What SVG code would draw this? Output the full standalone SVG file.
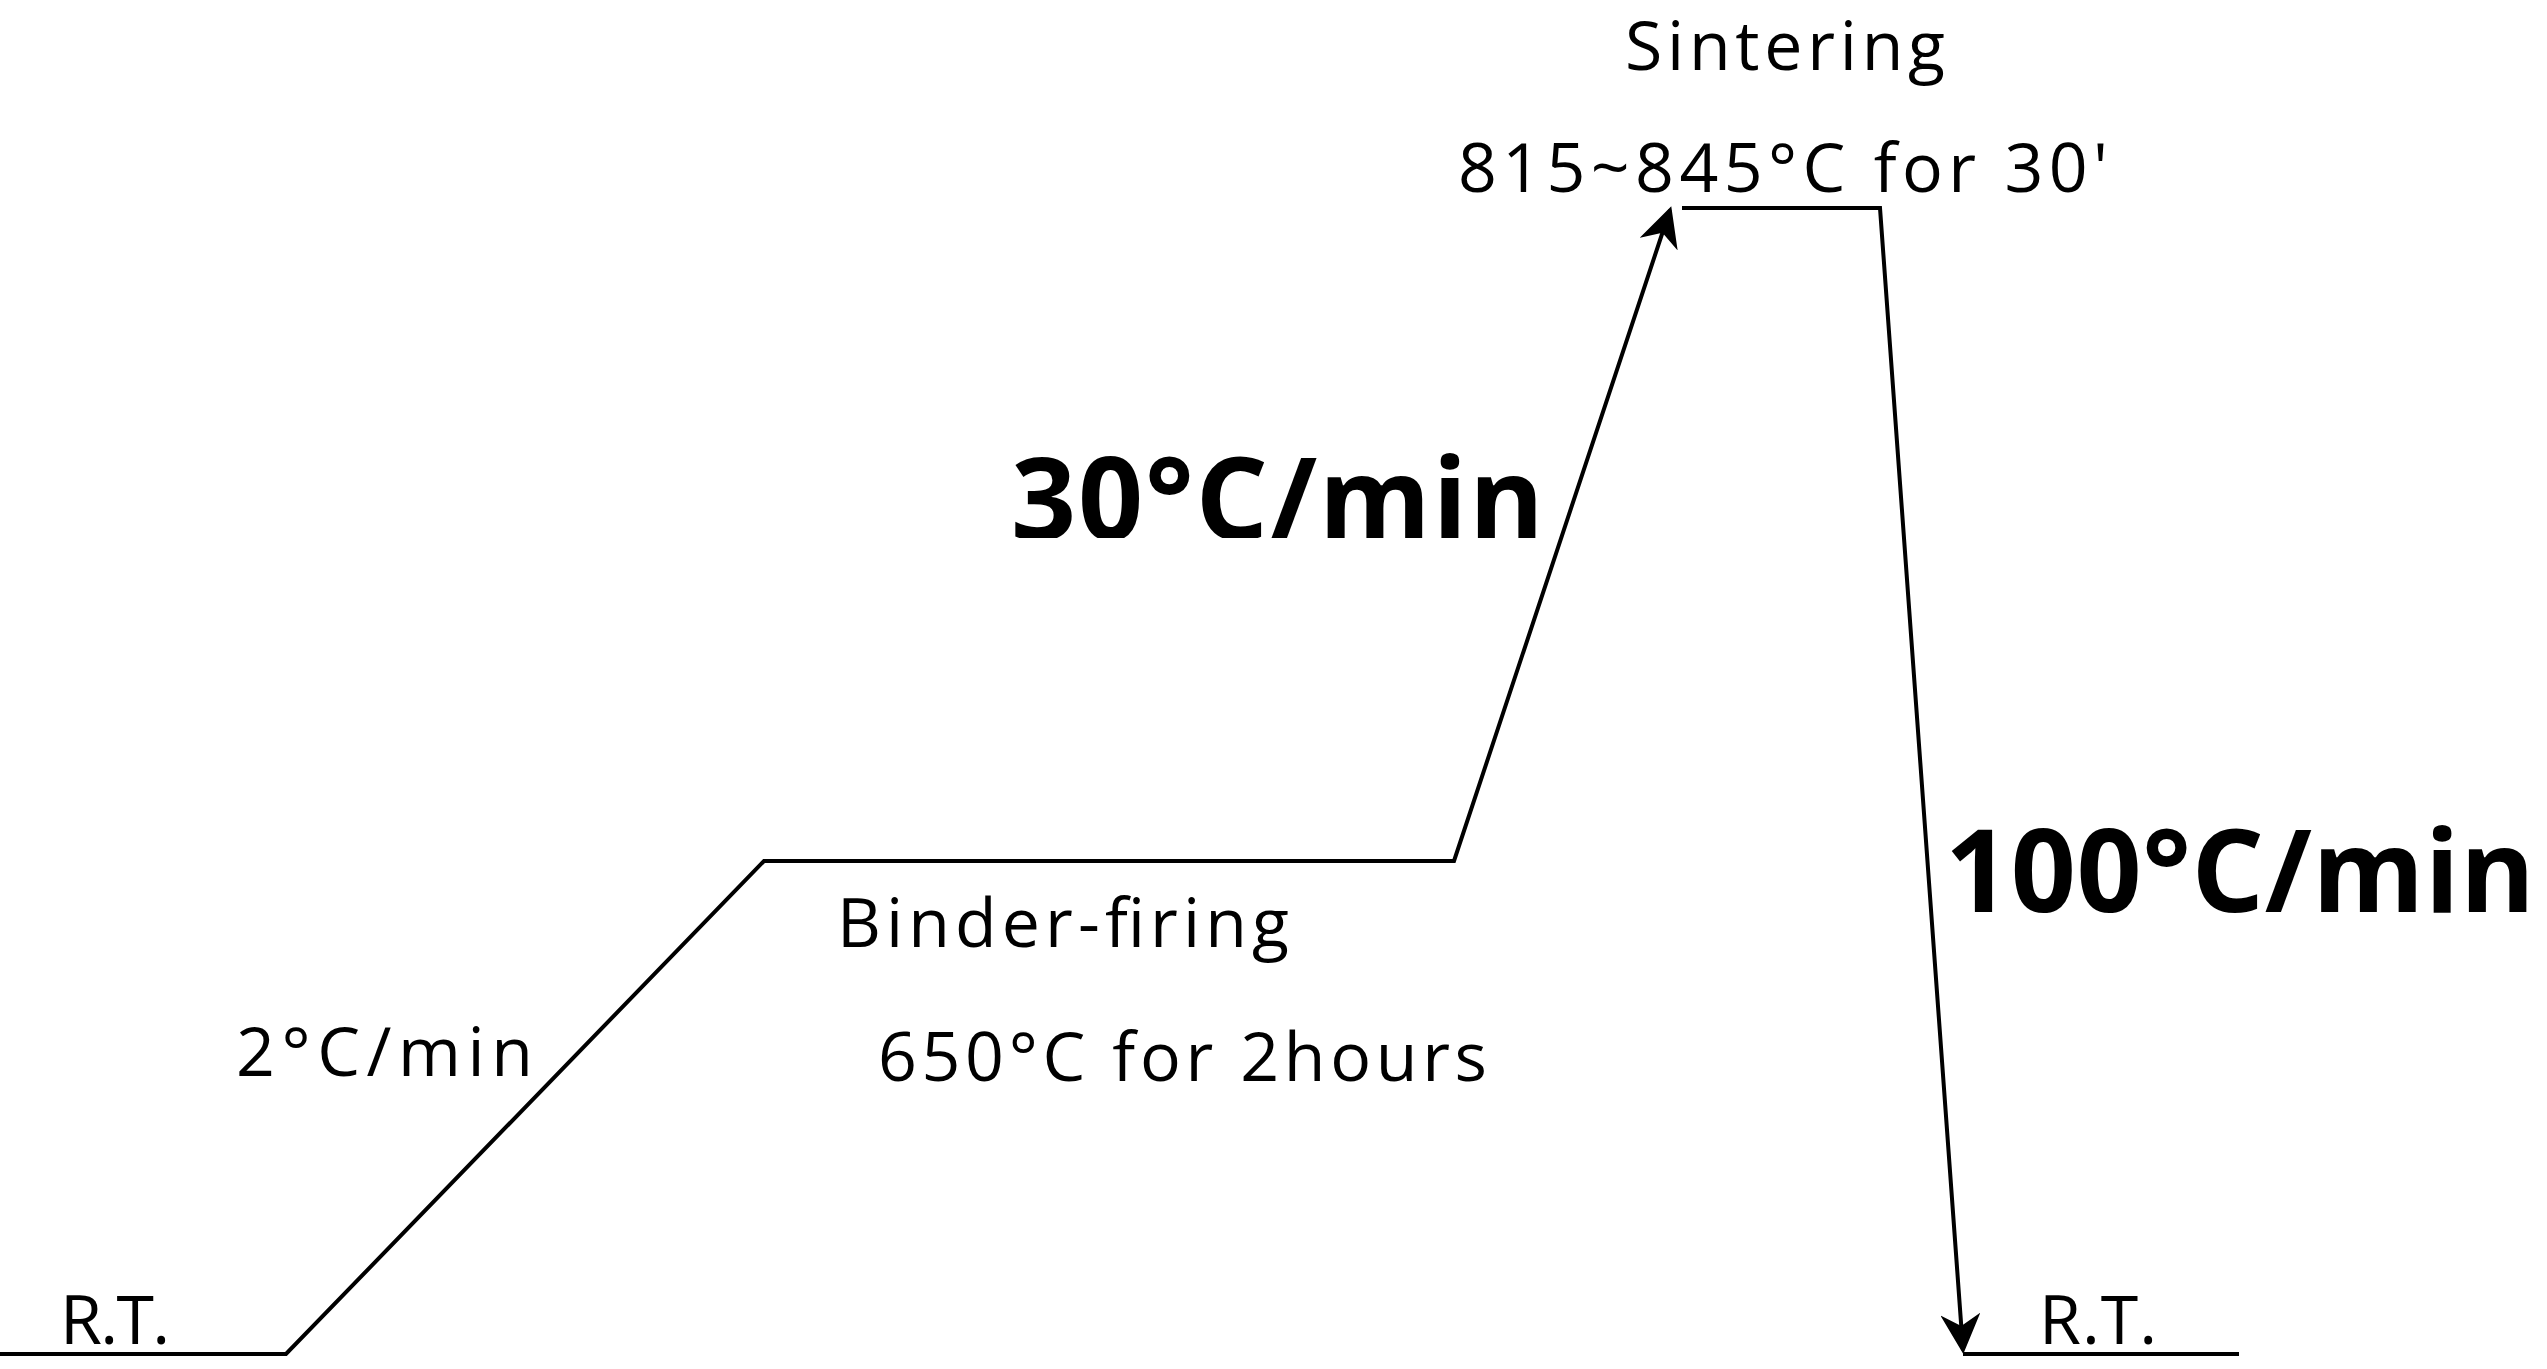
<svg xmlns="http://www.w3.org/2000/svg" width="2547" height="1369" viewBox="0 0 2547 1369">
<style>
text{font-family:"Open Sans","Liberation Sans",sans-serif;fill:#000}
.n{font-size:68px}
.b{font-size:114px;font-weight:bold}
.l{fill:none;stroke:#000;stroke-width:4}
</style>
<defs>
<marker id="ab" viewBox="0 0 20 20" refX="18" refY="10" markerWidth="40" markerHeight="40" markerUnits="userSpaceOnUse" orient="auto"><path d="M0,0 L20,10 L0,20 L6,10 Z" fill="#000"/></marker>
<clipPath id="c"><rect x="0" y="0" width="2547" height="538"/></clipPath>
</defs>
<g id="connectors">
<polyline class="l" points="0,1354 286,1354 764,861 1454,861 1670,210" marker-end="url(#ab)"/>
<polyline class="l" points="1682,208 1880,208 1963,1350" marker-end="url(#ab)"/>
<line class="l" x1="1963" y1="1354" x2="2239" y2="1354"/>
</g>
<g id="rt1"><text class="n" x="60" y="1344" textLength="110">R.T.</text></g>
<g id="rate1"><text class="n" x="236" y="1076" textLength="297">2°C/min</text></g>
<g id="binder"><text class="n" x="837" y="947" textLength="452">Binder-firing</text><text class="n" x="878" y="1081" textLength="609">650°C for 2hours</text></g>
<g id="rate2"><text class="b" x="1011" y="540" textLength="533" clip-path="url(#c)">30°C/min</text></g>
<g id="sinter"><text class="n" x="1625" y="70" textLength="320">Sintering</text><text class="n" x="1458" y="192" textLength="650">815~845°C for 30'</text></g>
<g id="rate3"><text class="b" x="1945" y="912" textLength="590">100°C/min</text></g>
<g id="rt2"><text class="n" x="2039" y="1344" textLength="118">R.T.</text></g>
</svg>
